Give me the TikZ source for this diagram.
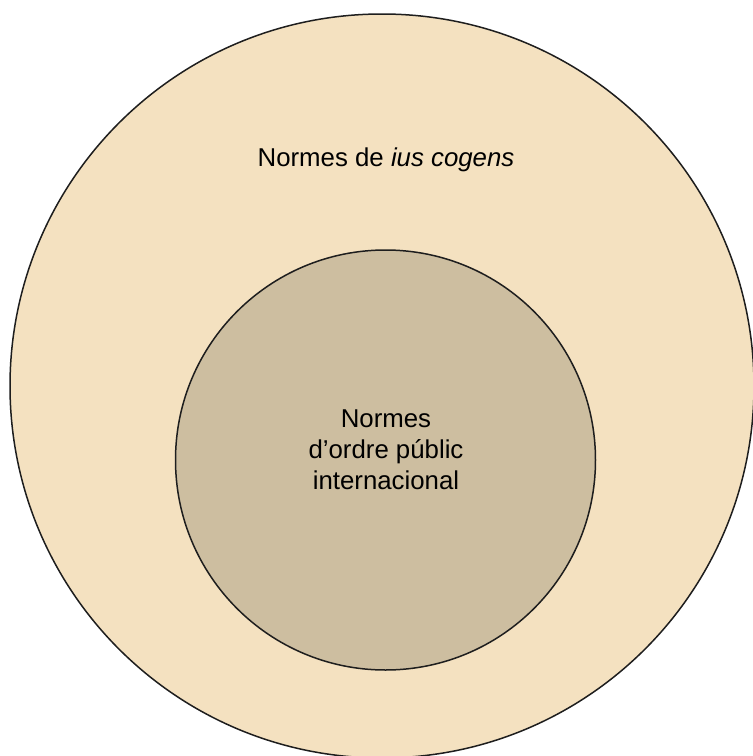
\documentclass[tikz,border=0pt]{standalone}
\usepackage{fontspec}
\setmainfont{Liberation Sans}
\definecolor{outerfill}{HTML}{F4E1C0}
\definecolor{innerfill}{HTML}{CDBEA0}
\definecolor{edge}{HTML}{1E1E1E}
\begin{document}
\begin{tikzpicture}[x=1pt,y=-1pt,
  ring/.style={draw=edge,line width=1.5pt},
  lbl/.style={font=\fontsize{25.8}{31}\selectfont,align=center,text=black,inner sep=0pt}]
\useasboundingbox (0,0) rectangle (753,756);
\clip (0,0) rectangle (753,756);
\fill[white] (0,0) rectangle (753,756);
\node[ring,fill=outerfill,circle,minimum size=744pt,inner sep=0pt] (outer) at (382,386) {};
\node[ring,fill=innerfill,circle,minimum size=420pt,inner sep=0pt] (inner) at (385.5,460) {};
\node[lbl,anchor=base] (outerlbl) at (386,166) {Normes de \textit{ius cogens}};
\node[lbl] (innerlbl) at (386,450) {Normes\\d’ordre públic\\internacional};
\end{tikzpicture}
\end{document}
